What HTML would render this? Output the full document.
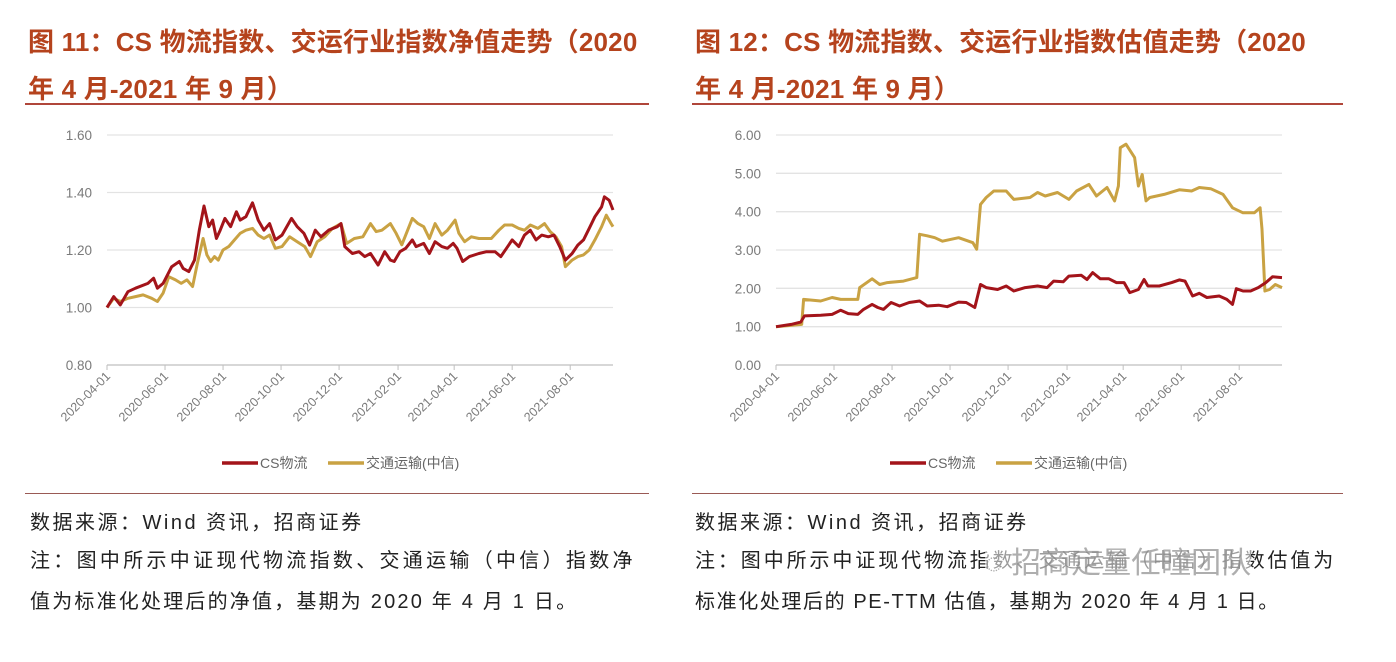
<!DOCTYPE html>
<html><head><meta charset="utf-8">
<style>
body{margin:0;width:1396px;height:662px;background:#fff;position:relative;overflow:hidden;font-family:"Liberation Sans","Noto Sans CJK SC",sans-serif;}
.t{position:absolute;font-weight:bold;font-size:26px;color:#b5431d;white-space:nowrap;letter-spacing:0.2px}
.n{position:absolute;font-size:20px;color:#222;white-space:nowrap}
.rule{position:absolute;height:2px;background:#b0463a}
.brule{position:absolute;height:1px;background:#9a5a55}
svg{position:absolute;left:0;top:0}
</style></head><body>
<div class="t" style="left:28px;top:22px">图 11：CS 物流指数、交运行业指数净值走势（2020</div>
<div class="t" style="left:28px;top:69px">年 4 月-2021 年 9 月）</div>
<div class="t" style="left:695px;top:22px">图 12：CS 物流指数、交运行业指数估值走势（2020</div>
<div class="t" style="left:695px;top:69px">年 4 月-2021 年 9 月）</div>
<div class="rule" style="left:25px;top:103px;width:624px"></div>
<div class="rule" style="left:692px;top:103px;width:651px"></div>
<div class="brule" style="left:25px;top:493px;width:624px"></div>
<div class="brule" style="left:692px;top:493px;width:651px"></div>
<div class="n" style="left:30px;top:506px;letter-spacing:2.5px">数据来源：Wind 资讯，招商证券</div>
<div class="n" style="left:30px;top:544px;letter-spacing:3.3px">注：图中所示中证现代物流指数、交通运输（中信）指数净</div>
<div class="n" style="left:30px;top:585px;letter-spacing:2.2px">值为标准化处理后的净值，基期为 2020 年 4 月 1 日。</div>
<div class="n" style="left:695px;top:506px;letter-spacing:2.5px">数据来源：Wind 资讯，招商证券</div>
<div class="n" style="left:695px;top:544px;letter-spacing:2.9px">注：图中所示中证现代物流指数、交通运输（中信）指数估值为</div>
<div class="n" style="left:695px;top:585px;letter-spacing:1.6px">标准化处理后的 PE-TTM 估值，基期为 2020 年 4 月 1 日。</div>
<div style="position:absolute;left:985px;top:538px;font-size:30px;color:rgba(140,140,140,0.7);white-space:nowrap;font-family:'Liberation Sans','Noto Sans CJK SC',sans-serif;background:rgba(255,255,255,0.55)">◌ 招商定量任瞳团队</div>
<svg id="s" width="1396" height="662"></svg>
<script>
// Shared x axis: day offsets from 2020-04-01
const tickDays=[0,61,122,183,244,306,365,426,487];
const tickLabels=["2020-04-01","2020-06-01","2020-08-01","2020-10-01","2020-12-01","2021-02-01","2021-04-01","2021-06-01","2021-08-01"];
// Chart 1: net value
const c1YTicks=[0.8,1.0,1.2,1.4,1.6];
const c1RedDays=[0,7,14,22,30,43,49,53,59,68,76,80,86,92,97,102,107,111,115,119,124,130,136,140,146,153,159,165,171,177,184,194,200,207,213,219,225,233,242,246,250,258,265,271,277,285,292,298,302,308,314,321,325,333,339,345,352,358,364,368,374,381,391,399,408,414,420,426,433,439,445,451,457,464,470,476,482,489,495,501,507,513,520,523,528,532];
const c1RedVals=[1.000,1.038,1.009,1.055,1.067,1.084,1.102,1.067,1.084,1.142,1.160,1.136,1.125,1.165,1.269,1.353,1.281,1.304,1.240,1.269,1.310,1.281,1.333,1.304,1.316,1.364,1.304,1.269,1.292,1.235,1.252,1.310,1.281,1.258,1.217,1.269,1.246,1.269,1.281,1.292,1.212,1.188,1.194,1.177,1.188,1.148,1.194,1.165,1.160,1.194,1.206,1.235,1.212,1.223,1.188,1.229,1.212,1.206,1.223,1.206,1.160,1.177,1.188,1.194,1.194,1.177,1.206,1.235,1.212,1.252,1.269,1.235,1.252,1.246,1.252,1.212,1.165,1.188,1.217,1.235,1.275,1.316,1.350,1.385,1.373,1.339];
const c1GoldDays=[0,7,14,22,30,38,47,53,59,65,72,78,84,90,95,101,105,109,113,117,122,128,134,140,146,153,159,165,171,177,184,192,200,208,214,221,229,237,246,252,260,269,277,283,289,298,304,310,314,321,327,333,339,345,352,358,366,370,376,383,391,404,412,418,426,433,439,445,453,460,466,472,478,482,489,495,501,507,513,520,525,530,532];
const c1GoldVals=[1.000,1.032,1.021,1.032,1.038,1.044,1.032,1.021,1.050,1.107,1.096,1.084,1.096,1.073,1.154,1.240,1.183,1.160,1.177,1.165,1.200,1.212,1.235,1.258,1.269,1.275,1.252,1.240,1.252,1.206,1.212,1.246,1.229,1.212,1.177,1.229,1.246,1.275,1.292,1.223,1.240,1.246,1.292,1.264,1.269,1.292,1.258,1.218,1.252,1.310,1.292,1.281,1.240,1.292,1.252,1.269,1.304,1.258,1.229,1.246,1.240,1.240,1.269,1.287,1.287,1.275,1.269,1.287,1.275,1.292,1.264,1.246,1.212,1.142,1.165,1.177,1.183,1.200,1.235,1.281,1.321,1.292,1.281];
// Chart 2: PE-TTM
const c2YTicks=[0,1,2,3,4,5,6];
const c2RedDays=[0,16,26,30,47,59,68,76,86,92,101,107,113,121,130,140,151,159,171,180,192,200,209,215,221,233,242,250,262,275,285,292,302,308,321,327,333,341,350,358,366,372,381,387,391,403,416,424,430,438,445,453,466,474,480,484,491,499,507,515,522,532];
const c2RedVals=[1.00,1.06,1.12,1.28,1.30,1.32,1.43,1.34,1.32,1.45,1.58,1.50,1.45,1.63,1.54,1.63,1.67,1.54,1.56,1.52,1.64,1.63,1.50,2.10,2.02,1.97,2.06,1.93,2.02,2.06,2.02,2.19,2.17,2.32,2.34,2.23,2.41,2.25,2.25,2.15,2.15,1.89,1.97,2.23,2.06,2.06,2.15,2.22,2.19,1.80,1.87,1.76,1.80,1.71,1.58,1.99,1.93,1.93,2.02,2.15,2.30,2.28];
const c2GoldDays=[0,14,27,29,47,59,68,86,88,101,109,117,134,148,151,159,167,175,192,207,211,215,221,229,242,250,267,275,283,296,308,316,329,337,348,356,360,362,368,377,381,385,389,393,408,424,437,445,457,470,480,491,503,509,511,514,519,525,532];
const c2GoldVals=[1.00,1.03,1.06,1.71,1.67,1.76,1.71,1.71,2.02,2.25,2.10,2.15,2.19,2.28,3.41,3.37,3.32,3.23,3.32,3.19,3.02,4.19,4.37,4.54,4.54,4.32,4.37,4.50,4.41,4.50,4.32,4.54,4.71,4.41,4.63,4.28,4.67,5.67,5.76,5.41,4.67,4.97,4.28,4.37,4.45,4.57,4.54,4.63,4.60,4.45,4.10,3.97,3.97,4.10,3.54,1.93,1.97,2.10,2.02];

const NS="http://www.w3.org/2000/svg";
const svg=document.getElementById('s');
function mk(tag,attrs,parent){const e=document.createElementNS(NS,tag);for(const k in attrs)e.setAttribute(k,attrs[k]);(parent||svg).appendChild(e);return e;}
const RED="#a3141a", GOLD="#c9a243";
function drawChart(id,x0,x1,yTop,yBot,yMin,yMax,yTicks,dec,redD,redV,goldD,goldV,legX){
  const g=mk('g',{});
  
  
  const xs=d=>x0+d*(x1-x0)/532;
  const ys=v=>yBot-(v-yMin)/(yMax-yMin)*(yBot-yTop);
  yTicks.forEach(v=>{
    const y=ys(v);
    const l=mk('line',{x1:x0,x2:x1,y1:y,y2:y,stroke:v===yMin?'#bfbfbf':'#e3e3e3','stroke-width':1.3},g);
    
    
    const t=mk('text',{x:x0-15,y:y+5,'text-anchor':'end','font-size':13.5,fill:'#7a7a7a','font-family':'Liberation Sans, sans-serif'},g);
    t.textContent=v.toFixed(2);
    
    
  });
  tickDays.forEach((d,i)=>{
    const x=xs(d);
    const tk=mk('line',{x1:x,x2:x,y1:yBot,y2:yBot+5,stroke:'#bfbfbf'},g);
    
    
    const t=mk('text',{x:x+4,y:yBot+12,'text-anchor':'end','font-size':12.5,fill:'#7a7a7a','font-family':'Liberation Sans, sans-serif',transform:`rotate(-45 ${x+4} ${yBot+12})`},g);
    t.textContent=tickLabels[i];
    
    
  });
  function line(D,V,c,name){
    const p=mk('polyline',{points:D.map((d,i)=>xs(d).toFixed(1)+','+ys(V[i]).toFixed(1)).join(' '),fill:'none',stroke:c,'stroke-width':3,'stroke-linejoin':'round'},g);
    
    
  }
  line(goldD,goldV,GOLD,'series-transport');
  line(redD,redV,RED,'series-cs-logistics');
  const ly=463;
  const l1=mk('line',{x1:legX,x2:legX+36,y1:ly,y2:ly,stroke:RED,'stroke-width':3.5},g);
  
  
  const t1=mk('text',{x:legX+38,y:ly+5,'font-size':14,fill:'#666','font-family':'Liberation Sans, Noto Sans CJK SC, sans-serif'},g);
  t1.textContent='CS物流';
  
  
  const l2=mk('line',{x1:legX+106,x2:legX+142,y1:ly,y2:ly,stroke:GOLD,'stroke-width':3.5},g);
  
  
  const t2=mk('text',{x:legX+144,y:ly+5,'font-size':14,fill:'#666','font-family':'Liberation Sans, Noto Sans CJK SC, sans-serif'},g);
  t2.textContent='交通运输(中信)';
  
  
}
drawChart('chart1-net-value',107,613,135,365,0.8,1.6,c1YTicks,2,c1RedDays,c1RedVals,c1GoldDays,c1GoldVals,222);
drawChart('chart2-valuation',776,1282,135,365,0,6,c2YTicks,2,c2RedDays,c2RedVals,c2GoldDays,c2GoldVals,890);
</script>
</body></html>
